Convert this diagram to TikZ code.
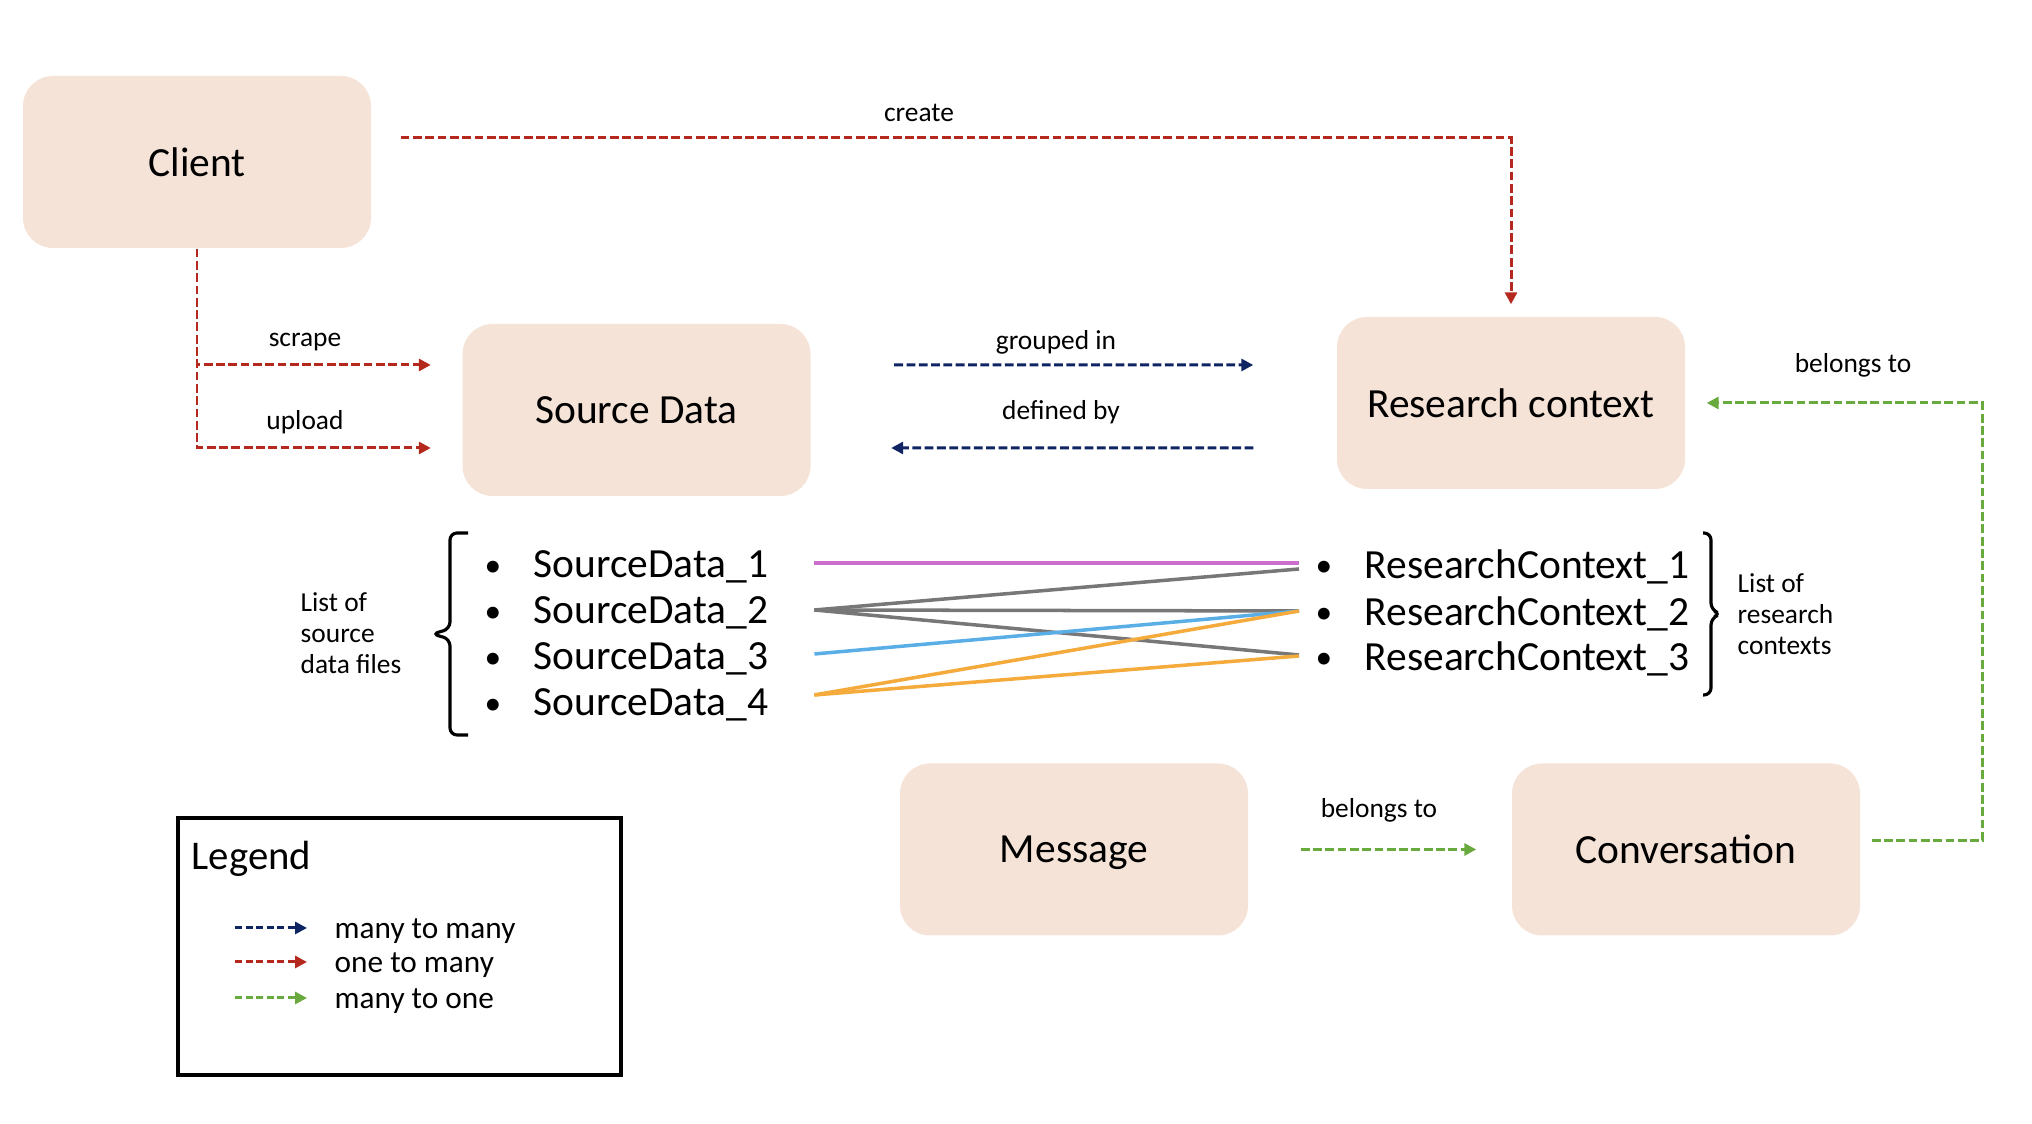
\documentclass[tikz,border=0pt]{standalone}
\usepackage{fontspec}
\setmainfont{Carlito}
\usetikzlibrary{arrows.meta}

\definecolor{peach}{HTML}{F6E3D7}
\definecolor{redc}{HTML}{B5281E}
\definecolor{navyc}{HTML}{0F2463}
\definecolor{greenc}{HTML}{69AA3F}
\definecolor{pinkc}{HTML}{CC6FCC}
\definecolor{grayc}{HTML}{777777}
\definecolor{bluec}{HTML}{5AAEE6}
\definecolor{orangec}{HTML}{F5AA3C}

\tikzset{
  box/.style={rectangle, rounded corners=0.3cm, fill=peach, minimum width=3.48cm,
    minimum height=1.72cm, text depth=0pt, font=\fontsize{11.8}{14}\selectfont},
  lbl/.style={font=\fontsize{7.8}{8.8}\selectfont, inner sep=0pt},
  item/.style={font=\fontsize{11.8}{14}\selectfont, inner sep=0pt, anchor=west, text depth=0pt},
  conn/.style={line width=0.85pt, dash pattern=on 2.5pt off 1pt,
    -{Triangle[length=0.12cm,width=0.12cm]}},
  onemany/.style={conn, draw=redc},
  manymany/.style={conn, draw=navyc},
  manyone/.style={conn, draw=greenc},
  link/.style={line width=1pt},
  bracket/.style={line width=0.9pt, rounded corners=2pt}
}
\newcommand{\itembullet}{\raisebox{0.4pt}{\fontsize{9.5}{9.5}\selectfont\textbullet}}

\begin{document}
\begin{tikzpicture}
\useasboundingbox (0,0) rectangle (20.32,11.24);

% entities
\node[box] (client) at (1.97,9.62) {Client};
\node[box] (sd) at (6.365,7.14) {Source Data};
\node[box] (rc) at (15.11,7.21) {Research context};
\node[box] (msg) at (10.74,2.745) {Message};
\node[box] (conv) at (16.86,2.745) {Conversation};

% relations
\draw[onemany] ([xshift=0.29cm,yshift=0.24cm]client.east) -| ([yshift=0.12cm]rc.north);
\draw[onemany] (client.south) |- ([xshift=-0.31cm,yshift=0.45cm]sd.west);
\draw[onemany] (client.south) |- ([xshift=-0.31cm,yshift=-0.38cm]sd.west);
\draw[manymany] ([xshift=0.83cm,yshift=0.45cm]sd.east) -- ([xshift=-0.83cm,yshift=0.38cm]rc.west);
\draw[manymany] ([xshift=-0.83cm,yshift=-0.45cm]rc.west) -- ([xshift=0.8cm,yshift=-0.38cm]sd.east);
\draw[manyone] ([xshift=0.11cm,yshift=0.09cm]conv.east) -| ([xshift=2.97cm]rc.east) -- ([xshift=0.21cm]rc.east);
\draw[manyone] ([xshift=0.52cm]msg.east) -- ([xshift=-0.35cm]conv.west);

\node[lbl] (create) at (9.19,10.11) {create};
\node[lbl] (scrape) at (3.05,7.82) {scrape};
\node[lbl] (upload) at (3.05,7.02) {upload};
\node[lbl] (grouped) at (10.56,7.82) {grouped in};
\node[lbl] (defined) at (10.61,7.12) {defined by};
\node[lbl] (belongsrc) at (18.53,7.59) {belongs to};
\node[lbl] (belongsconv) at (13.79,3.14) {belongs to};

% lists
\foreach \i/\y in {1/5.60,2/5.14,3/4.68,4/4.22}
  \node[item, text width=2.9cm] (sd\i) at (4.84,\y) {\makebox[0.49cm][l]{\itembullet}SourceData\_\i};
\foreach \i/\y in {1/5.60,2/5.13,3/4.68}
  \node[item] (rc\i) at (13.15,\y) {\makebox[0.49cm][l]{\itembullet}ResearchContext\_\i};

\draw[bracket] (4.68,5.91) -- (4.50,5.91) -- (4.50,4.95) -- (4.32,4.90) -- (4.50,4.85) -- (4.50,3.89) -- (4.68,3.89);
\draw[bracket] (17.03,5.91) -- (17.11,5.91) -- (17.11,5.14) -- (17.21,5.10) -- (17.11,5.06) -- (17.11,4.29) -- (17.03,4.29);

\node[lbl, anchor=west, align=left] (sdlist) at (3.00,4.91) {List of\\source\\data files};
\node[lbl, anchor=west, align=left] (rclist) at (17.37,5.10) {List of\\research\\contexts};

% links between list items
\draw[link, pinkc] ([xshift=0.39cm,yshift=0.01cm]sd1.east) -- ([xshift=-0.16cm,yshift=0.01cm]rc1.west);
\foreach \j/\s in {1/-0.05,2/0,3/0.01}
  \draw[link, grayc] ([xshift=0.39cm]sd2.east) -- ([xshift=-0.16cm,yshift=\s cm]rc\j.west);
\draw[link, bluec] ([xshift=0.39cm,yshift=0.02cm]sd3.east) -- ([xshift=-0.16cm]rc2.west);
\foreach \j in {2,3}
  \draw[link, orangec] ([xshift=0.39cm,yshift=0.07cm]sd4.east) -- ([xshift=-0.16cm]rc\j.west);

% legend
\node[draw, line width=1.1pt, minimum width=4.43cm, minimum height=2.57cm] (legendbox) at (3.995,1.775) {};
\node[anchor=west, inner sep=0pt, text depth=0pt, font=\fontsize{11.6}{13.7}\selectfont] (legendtitle) at ([xshift=0.15cm,yshift=-0.39cm]legendbox.north west) {Legend};
\foreach \s/\t/\y in {manymany/many to many/1.95, onemany/one to many/1.61, manyone/many to one/1.25}{
  \node[anchor=west, inner sep=0pt, text depth=0pt, font=\fontsize{8.9}{10.5}\selectfont] (leg\s) at (3.34,\y) {\t};
  \draw[\s, dash pattern=on 2pt off 1pt] ([xshift=-0.99cm,yshift=0.01cm]leg\s.west) -- ([xshift=-0.27cm,yshift=0.01cm]leg\s.west);
}

\end{tikzpicture}
\end{document}
